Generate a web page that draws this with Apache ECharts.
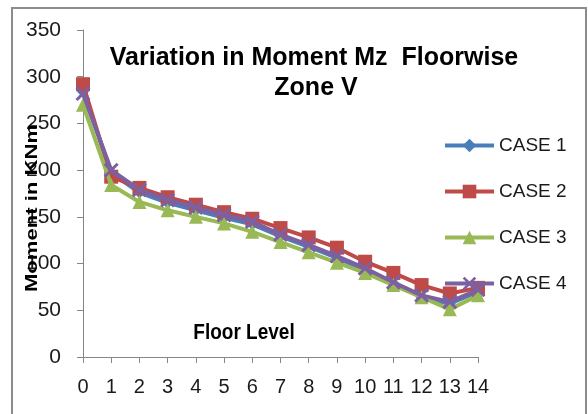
<!DOCTYPE html>
<html>
<head>
<meta charset="utf-8">
<script src="https://cdn.jsdelivr.net/npm/echarts@6/dist/echarts.min.js"></script>
<style>html,body{margin:0;padding:0;background:#fff}#c{width:588px;height:414px}</style>
</head>
<body>
<div id="c"></div>
<script>
const floors = ['0','1','2','3','4','5','6','7','8','9','10','11','12','13','14'];
const case1 = [284, 197, 176, 165, 157, 149, 142, 129, 118, 106, 93, 79, 64, 57, 70];
const case2 = [292, 193, 181, 171, 163, 155, 148, 138, 128, 117, 102, 90, 77, 68, 74];
const case3 = [270, 184, 166, 157, 150, 143, 134, 123, 112, 101, 90, 77, 64, 51, 66];
const case4 = [282, 200, 179, 168, 160, 152, 145, 131, 120, 108, 95, 80, 66, 59, 72];
const seriesNames = ['CASE 1','CASE 2','CASE 3','CASE 4'];
const titleLine1 = 'Variation in Moment Mz  Floorwise';
const titleLine2 = 'Zone V';
const yName = 'Moment in KNm';
const xName = 'Floor Level';

const colors = ['#4A7EBB','#BE4B48','#98B954','#7D60A0'];
const xSym = 'path://M0,1.4L1.4,0L5,3.6L8.6,0L10,1.4L6.4,5L10,8.6L8.6,10L5,6.4L1.4,10L0,8.6L3.6,5Z';
const symbols = ['diamond','rect','triangle',xSym];
const sizes = [12,14,14,15];
const data = [case1, case2, case3, case4];

const chart = echarts.init(document.getElementById('c'));
const font = 'Liberation Sans, Arial, sans-serif';
chart.setOption({
  animation: false,
  color: colors,
  grid: {left: 83, right: 110, top: 30, bottom: 57, containLabel: false},
  legend: {
    orient: 'vertical', left: 443, top: 136, padding: 0,
    itemWidth: 49, itemHeight: 17, itemGap: 27,
    lineStyle: {width: 4},
    textStyle: {fontSize: 19, color: '#1a1a1a', fontFamily: font},
    data: seriesNames
  },
  xAxis: {
    type: 'category', data: floors, boundaryGap: false,
    axisLine: {lineStyle: {color: '#868686', width: 1}},
    axisTick: {show: true, length: 6, lineStyle: {color: '#868686'}},
    axisLabel: {fontSize: 20, color: '#1a1a1a', margin: 20, fontFamily: font, interval: 0}
  },
  yAxis: {
    type: 'value', min: 0, max: 350, interval: 50,
    axisLine: {show: true, lineStyle: {color: '#868686', width: 1}},
    axisTick: {show: true, length: 6, lineStyle: {color: '#868686'}},
    splitLine: {show: false},
    axisLabel: {fontSize: 21, color: '#1a1a1a', margin: 22, fontFamily: font}
  },
  series: data.map((d, i) => ({
    name: seriesNames[i], type: 'line', data: d,
    symbol: symbols[i], symbolSize: sizes[i],
    lineStyle: {width: 4, color: colors[i]},
    itemStyle: {color: colors[i]},
    z: 2 + i
  })),
  graphic: [
    {type: 'rect', z: 0, silent: true, shape: {x: 12, y: 8, width: 574, height: 420},
     style: {fill: null, stroke: '#8c8c8c', lineWidth: 2}},
    {type: 'text', x: 314, y: 58, z: 10, style: {text: titleLine1, fontSize: 25, fontWeight: 'bold', fontFamily: font, fill: '#000', textAlign: 'center', textVerticalAlign: 'middle'}},
    {type: 'text', x: 316, y: 88, z: 10, style: {text: titleLine2, fontSize: 25, fontWeight: 'bold', fontFamily: font, fill: '#000', textAlign: 'center', textVerticalAlign: 'middle'}},
    {type: 'text', x: 32, y: 208, rotation: Math.PI / 2, scaleX: 1.3, z: 10, style: {text: yName, fontSize: 17, fontWeight: 'bold', fontFamily: font, fill: '#000', textAlign: 'center', textVerticalAlign: 'middle'}},
    {type: 'text', x: 244, y: 333, scaleY: 1.2, z: 10, style: {text: xName, fontSize: 19, fontWeight: 'bold', fontFamily: font, fill: '#000', textAlign: 'center', textVerticalAlign: 'middle'}}
  ]
});
</script>
</body>
</html>
